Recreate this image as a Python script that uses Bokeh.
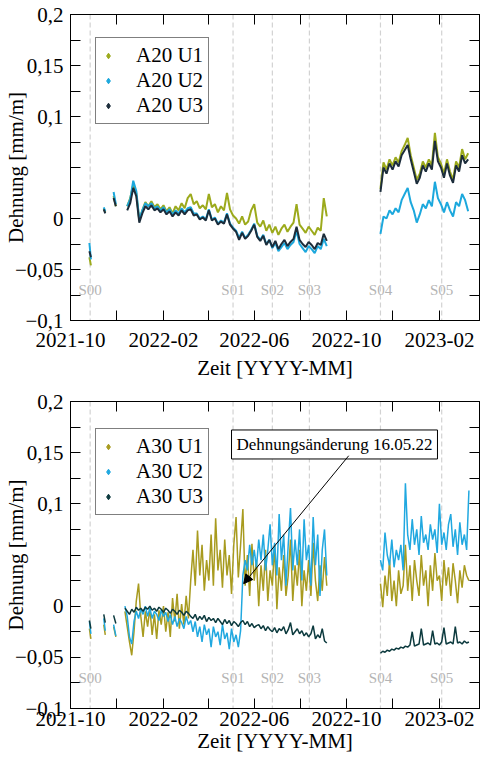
import numpy as np
import pandas as pd
from bokeh.plotting import figure
from bokeh.layouts import column
from bokeh.models import (Range1d, FixedTicker, DatetimeAxis, LinearAxis, Span, Label,
                          Legend, LegendItem, Arrow, NormalHead, CustomLabelingPolicy)
from bokeh.embed import file_html
from bokeh.resources import INLINE

FONT = "Liberation Serif"

# ---------------- axes / ticks ----------------
x_start, x_end = "2021-10-01", "2023-03-26"
x_tick_dates = ["2021-10-01", "2022-02-01", "2022-06-01", "2022-10-01", "2023-02-01"]
x_tick_labels = ["2021-10", "2022-02", "2022-06", "2022-10", "2023-02"]
x_minor_dates = ["2021-12-01", "2022-04-01", "2022-08-01", "2022-12-01"]
y_tick_values = [-0.1, -0.05, 0.0, 0.1, 0.15, 0.2]
y_tick_labels = ["−0,1", "−0,05", "0", "0,1", "0,15", "0,2"]
y_minor_values = [-0.075, -0.025, 0.025, 0.05, 0.075, 0.125, 0.175]

stage_names = ["S00", "S01", "S02", "S03", "S04", "S05"]
stage_dates = ["2021-10-27", "2022-05-04", "2022-06-25", "2022-08-13", "2022-11-15", "2023-02-04"]

# ---------------- data (values in µm/m = 1e-3 mm/m) ----------------
frag_dates = [["2021-10-26", "2021-10-28"], ["2021-11-14", "2021-11-16"], ["2021-11-27", "2021-11-30"]]

a20_seg1_start, a20_seg2_start, a20_step = "2021-12-15", "2022-11-15", 4
a20_u1_frag = [[-38, -46], [10, 6], [22, 12]]
a20_u2_frag = [[-24, -40], [11, 7], [26, 14]]
a20_u3_frag = [[-32, -38], [9, 5], [20, 12]]
a20_u1_s1 = [12, 20, 33, 25, -2, 8, 16, 12, 17, 11, 14, 9, 13, 7, 11, 5, 12, 8, 15, 10,
             20, 24, 14, 17, 10, 13, 9, 24, 11, 14, 6, 12, 8, 25, 9, 3, 0, -5, 2, -6,
             -3, 8, 14, -4, -8, -2, -12, -6, -14, -8, -16, -10, -6, -13, -8, -4, 14, -6, -10, -14,
             -8, -12, -16, -9, -12, 20, 2]
a20_u2_s1 = [12, 19, 37, 27, -1, 8, 15, 12, 15, 10, 12, 8, 11, 6, 9, 4, 8, 5, 10, 6,
             10, 11, 5, 5, 0, 2, -1, 9, -1, 1, -5, -2, -4, 5, -5, -9, -12, -19, -13, -19,
             -16, -11, -5, -17, -21, -16, -25, -21, -29, -24, -32, -28, -24, -30, -26, -23, -12, -25, -29, -33,
             -27, -30, -34, -27, -30, -20, -27]
a20_u3_s1 = [8, 15, 30, 22, -4, 5, 12, 9, 13, 8, 10, 6, 9, 4, 7, 2, 6, 3, 8, 4,
             8, 9, 3, 4, -1, 1, -2, 8, -2, 0, -6, -3, -5, 4, -6, -10, -13, -21, -14, -20,
             -17, -12, -6, -18, -22, -17, -26, -21, -28, -22, -30, -25, -21, -27, -23, -20, -8, -21, -25, -28,
             -23, -26, -30, -24, -26, -15, -22]
a20_u1_s2 = [29, 55, 48, 58, 52, 60, 55, 66, 72, 79, 62, 50, 38, 44, 56, 50, 58, 52, 84, 60,
             54, 44, 58, 46, 38, 56, 50, 68, 58, 64]
a20_u2_s2 = [-15, 2, 0, 8, 4, 10, 6, 18, 24, 30, 16, 8, -4, 4, 14, 10, 18, 12, 36, 20,
             14, 6, 16, 8, 2, 16, 12, 24, 18, 7]
a20_u3_s2 = [26, 50, 44, 54, 48, 56, 51, 62, 67, 72, 58, 46, 34, 40, 52, 46, 54, 48, 76, 56,
             50, 40, 54, 42, 35, 52, 46, 62, 54, 58]

a30_seg1_start, a30_seg2_start, a30_step = "2021-12-12", "2022-11-15", 3
a30_u1_frag = [[-22, -32], [-18, -28], [-20, -30]]
a30_u2_frag = [[-15, -27], [-12, -24], [-18, -29]]
a30_u3_frag = [[-14, -22], [-8, -16], [-9, -17]]
a30_u1_s1 = [-5, -20, -35, -48, -25, 5, 22, -10, -30, -5,
             -20, -2, -28, -8, -32, -4, -18, 0, -25, -6,
             -30, 8, -15, 12, -22, 2, -18, 10, -12, 25,
             55, 20, 74, 30, 60, 15, 45, 25, 70, 20,
             86, 35, 55, 18, 65, 30, 50, 12, 60, 87,
             28, 60, 95, 20, 50, 10, 61, 25, 45, 0,
             40, 15, 55, 5, 35, 20, 60, -3, 38, 15,
             50, 10, 30, 65, 5, 40, 20, 55, 0, 35,
             15, 45, 10, 62, 25, 5, 40, 15, 48, 20]
a30_u2_s1 = [0, -10, -30, -37, -15, -5, -12, -3, -8, 0,
             -10, -2, -12, -5, -8, -14, -4, -10, -6, -15,
             -8, -18, -10, -20, -12, -16, -22, -10, -18, -14,
             -25, -15, -30, -20, -35, -18, -28, -22, -40, -20,
             -30, -25, -38, -18, -32, -26, -42, -22, -35, -28,
             -40, -24, 30, 45, 35, 60, 40, 55, 38, 65,
             45, 70, 35, 55, 80, 40, 62, 30, 90, 45,
             70, 20, 60, 96, 35, 65, 40, 75, 25, 85,
             45, 60, 20, 87, 40, 70, 10, 55, 75, 30]
a30_u3_s1 = [-2, -5, -8, -3, -6, -1, -4, -2, -5, -1,
             -3, 0, -4, -2, -5, -1, -3, -6, -2, -4,
             -7, -3, -5, -8, -4, -6, -9, -5, -7, -10,
             -12, -8, -14, -10, -13, -9, -15, -11, -14, -12,
             -16, -12, -15, -18, -13, -17, -14, -19, -15, -17,
             -20, -16, -14, -18, -15, -20, -17, -21, -19, -18,
             -22, -19, -24, -20, -23, -25, -21, -26, -22, -24,
             -20, -27, -23, -16, -28, -25, -22, -27, -24, -29,
             -26, -30, -27, -19, -32, -28, -31, -22, -34, -36]
a30_u1_s2 = [22, -1, 30, 10, 45, 5, 25, 0, 35, 12, 20, 60, 15, 40, 5, 45, 25, 10, 50, 20,
             35, 0, 40, 15, 52, 25, 30, 5, 45, 20, 38, 10, 42, 25, 3, 35, 18, 40, 30, 25]
a30_u2_s2 = [45, 35, 72, 50, 40, 65, 38, 55, 45, 60, 35, 120, 70, 55, 85, 60, 75, 50, 88, 62,
             70, 55, 80, 65, 75, 52, 100, 60, 72, 55, 80, 90, 58, 75, 50, 82, 60, 70, 55, 113]
a30_u3_s2 = [-46, -44, -45, -43, -44, -42, -43, -41, -42, -40, -41, -39, -40, -38, -25, -39, -38, -37, -22, -38,
             -37, -36, -38, -24, -37, -36, -38, -35, -21, -37, -36, -35, -37, -20, -36, -35, -37, -34, -36, -35]

a20_names = ["A20 U1", "A20 U2", "A20 U3"]
a30_names = ["A30 U1", "A30 U2", "A30 U3"]
a20_colors = ["#9caa1c", "#1ca8dd", "#1c2d3b"]
a30_colors = ["#a89b1f", "#20a8e0", "#0c3a3e"]

note_text = "Dehnungsänderung 16.05.22"
note_date, note_value = "2022-05-02", 0.158
arrow_from = ("2022-10-04", 0.147)
arrow_to = ("2022-05-18", 0.022)


def ms(d):
    return pd.Timestamp(d).value / 1e6


def series(frags, seg1_start, seg1, seg2_start, seg2, step):
    xs, ys = [], []
    for ds, vs in zip(frag_dates, frags):
        xs += [ms(d) for d in ds] + [ms(ds[-1])]
        ys += [v / 1000 for v in vs] + [np.nan]
    for start, vals in ((seg1_start, seg1), (seg2_start, seg2)):
        dr = pd.date_range(start, periods=len(vals), freq=f"{step}D")
        xs += [ms(d) for d in dr] + [ms(dr[-1])]
        ys += [v / 1000 for v in vals] + [np.nan]
    return np.array(xs, dtype=float), np.array(ys, dtype=float)


def style_axis(ax):
    ax.major_tick_in = 10
    ax.major_tick_out = 0
    ax.minor_tick_in = 10
    ax.minor_tick_out = 0
    ax.axis_line_color = "black"
    ax.major_tick_line_color = "black"
    ax.minor_tick_line_color = "black"
    ax.major_label_text_font = FONT
    ax.major_label_text_font_size = "21px"
    ax.major_label_text_color = "black"
    ax.axis_label_text_font = FONT
    ax.axis_label_text_font_size = "21px"
    ax.axis_label_text_font_style = "normal"
    ax.axis_label_text_color = "black"


def mirror(ax):
    style_axis(ax)
    ax.major_label_text_font_size = "0px"
    ax.major_label_standoff = 0
    ax.major_label_policy = CustomLabelingPolicy(code="return new indices.constructor(indices.size)")


def make_panel(height, top_b, bottom_b, lab_standoff, title_standoff, names, colors, data, widths, legend_y):
    p = figure(width=481, height=height, x_axis_type="datetime",
               x_range=Range1d(ms(x_start), ms(x_end)), y_range=Range1d(-0.1, 0.2),
               output_backend="svg", toolbar_location=None,
               min_border_left=64, min_border_right=2, min_border_top=top_b, min_border_bottom=bottom_b)
    p.xgrid.visible = False
    p.ygrid.visible = False
    p.outline_line_color = "black"
    p.background_fill_color = "white"

    xt = FixedTicker(ticks=[ms(d) for d in x_tick_dates], minor_ticks=[ms(d) for d in x_minor_dates])
    yt = FixedTicker(ticks=y_tick_values, minor_ticks=y_minor_values)

    xax = p.xaxis[0]
    xax.ticker = xt
    xax.major_label_overrides = {ms(d): l for d, l in zip(x_tick_dates, x_tick_labels)}
    xax.axis_label = "Zeit [YYYY-MM]"
    style_axis(xax)
    xax.major_label_standoff = lab_standoff
    xax.axis_label_standoff = title_standoff

    yax = p.yaxis[0]
    yax.ticker = yt
    yax.major_label_overrides = dict(zip(y_tick_values, y_tick_labels))
    yax.axis_label = "Dehnung [mm/m]"
    style_axis(yax)
    yax.major_label_standoff = 7
    yax.axis_label_standoff = -16

    top = DatetimeAxis(ticker=xt)
    mirror(top)
    p.add_layout(top, "above")
    right = LinearAxis(ticker=yt)
    mirror(right)
    p.add_layout(right, "right")

    for d, n in zip(stage_dates, stage_names):
        p.add_layout(Span(location=ms(d), dimension="height", line_color="#d2d2d2",
                          line_width=1.2, line_dash="5 3", level="underlay"))
        p.add_layout(Label(x=ms(d), y=-0.07, text=n, text_align="center", text_baseline="middle",
                           text_font=FONT, text_font_size="15px", text_color="#b4b4b4"))

    for (xs, ys), c, w in zip(data, colors, widths):
        p.line(xs, ys, line_color=c, line_width=w)

    items = []
    for n, c in zip(names, colors):
        r = p.scatter(x=[np.nan], y=[np.nan], marker="diamond", size=9, fill_color=c, line_color=c)
        items.append(LegendItem(label=n, renderers=[r]))
    leg = Legend(items=items, location=(25, legend_y), label_text_font=FONT, label_text_font_size="21px",
                 label_text_color="black",
                 glyph_width=14, glyph_height=25, label_height=25, label_standoff=21,
                 spacing=0, padding=5, margin=0, border_line_color="black", border_line_width=1,
                 background_fill_color="white", background_fill_alpha=1)
    p.add_layout(leg)
    return p


top_data = [series(a20_u1_frag, a20_seg1_start, a20_u1_s1, a20_seg2_start, a20_u1_s2, a20_step),
            series(a20_u2_frag, a20_seg1_start, a20_u2_s1, a20_seg2_start, a20_u2_s2, a20_step),
            series(a20_u3_frag, a20_seg1_start, a20_u3_s1, a20_seg2_start, a20_u3_s2, a20_step)]
bot_data = [series(a30_u1_frag, a30_seg1_start, a30_u1_s1, a30_seg2_start, a30_u1_s2, a30_step),
            series(a30_u2_frag, a30_seg1_start, a30_u2_s1, a30_seg2_start, a30_u2_s2, a30_step),
            series(a30_u3_frag, a30_seg1_start, a30_u3_s1, a30_seg2_start, a30_u3_s2, a30_step)]

p1 = make_panel(382, 14, 60, 12, 6, a20_names, a20_colors, top_data, [2, 2, 2], 196)
p2 = make_panel(374, 19, 48, 3, 0, a30_names, a30_colors, bot_data, [1.5, 1.5, 1.5], 193)

p2.add_layout(Label(x=ms(note_date), y=note_value, text=note_text, text_align="left", text_baseline="middle",
                    text_font=FONT, text_font_size="17px", text_color="black",
                    border_line_color="black", border_line_width=1, background_fill_color="white",
                    padding=5))
p2.add_layout(Arrow(end=NormalHead(size=9, fill_color="black", line_color="black"),
                    x_start=ms(arrow_from[0]), y_start=arrow_from[1],
                    x_end=ms(arrow_to[0]), y_end=arrow_to[1], line_color="black", line_width=1))

layout = column(p1, p2)
open("out.html", "w").write(file_html(layout, INLINE))
